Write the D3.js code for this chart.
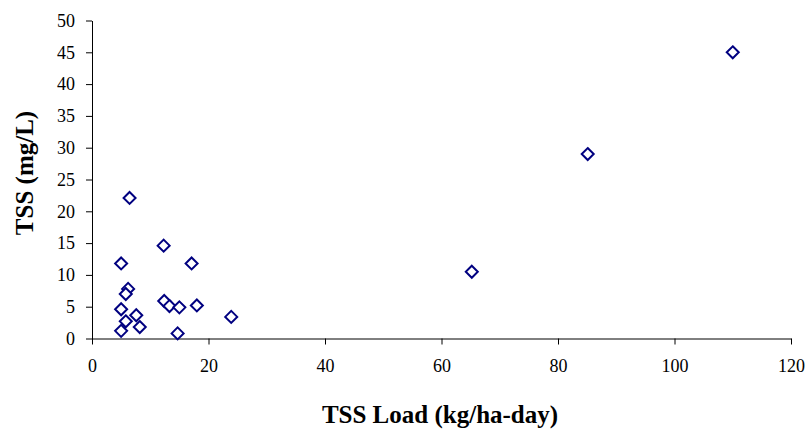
<!DOCTYPE html>
<html>
<head>
<meta charset="UTF-8">
<title>TSS vs TSS Load</title>
<script src="https://cdn.jsdelivr.net/npm/d3@7"></script>
<style>
  body { margin: 0; background: #fff; }
  text { font-family: "Times New Roman", "Liberation Serif", serif; }
</style>
</head>
<body>
<div id="chart"></div>
<script>
// data
var tssLoad = [6.45, 12.3, 5.0, 17.1, 6.2, 5.8, 5.0, 12.4, 13.3, 15.0, 18.0, 23.9, 7.6, 5.8, 8.2, 5.0, 14.7, 110.0, 85.1, 65.2]
var tssConc = [22.1, 14.6, 11.8, 11.8, 7.8, 7.0, 4.6, 5.9, 5.1, 4.9, 5.2, 3.4, 3.65, 2.7, 1.8, 1.2, 0.8, 45.0, 29.0, 10.5]
var xTicks = [0, 20, 40, 60, 80, 100, 120]
var yTicks = [0, 5, 10, 15, 20, 25, 30, 35, 40, 45, 50]

var width = 810, height = 432
var plotLeft = 92, plotRight = 791, plotTop = 20.5, plotBottom = 338.5

var svg = d3.select("#chart").append("svg")
  .attr("width", width)
  .attr("height", height)

var x = d3.scaleLinear().domain([0, 120]).range([plotLeft, plotRight])
var y = d3.scaleLinear().domain([0, 50]).range([plotBottom, plotTop])

var xAxis = svg.append("g")
  .attr("transform", "translate(0," + plotBottom + ")")
  .call(d3.axisBottom(x).tickValues(xTicks).tickSize(6).tickPadding(15).tickSizeOuter(0))
xAxis.selectAll("text").attr("font-size", 18).attr("fill", "#000")

var yAxis = svg.append("g")
  .attr("transform", "translate(" + plotLeft + ",0)")
  .call(d3.axisLeft(y).tickValues(yTicks).tickSize(6).tickPadding(11).tickSizeOuter(0))
yAxis.selectAll("text").attr("font-size", 18).attr("fill", "#000")

svg.selectAll(".domain, .tick line").attr("stroke", "#000").attr("stroke-width", 1)

// points
var pts = tssLoad.map(function(d, i) { return { load: d, conc: tssConc[i] } })
var r = 6
svg.selectAll(".pt")
  .data(pts).enter()
  .append("path")
  .attr("class", "pt")
  .attr("d", function(d) {
    var cx = x(d.load), cy = y(d.conc)
    return "M" + cx + "," + (cy - r) + "L" + (cx + r) + "," + cy +
      "L" + cx + "," + (cy + r) + "L" + (cx - r) + "," + cy + "Z"
  })
  .attr("fill", "#fff")
  .attr("stroke", "#000080")
  .attr("stroke-width", 2)

// axis titles
svg.append("text")
  .attr("x", 440)
  .attr("y", 423)
  .attr("text-anchor", "middle")
  .attr("font-size", 25)
  .attr("font-weight", "bold")
  .text("TSS Load (kg/ha-day)")

svg.append("text")
  .attr("transform", "translate(33,173) rotate(-90)")
  .attr("text-anchor", "middle")
  .attr("font-size", 25)
  .attr("font-weight", "bold")
  .text("TSS (mg/L)")
</script>
</body>
</html>
